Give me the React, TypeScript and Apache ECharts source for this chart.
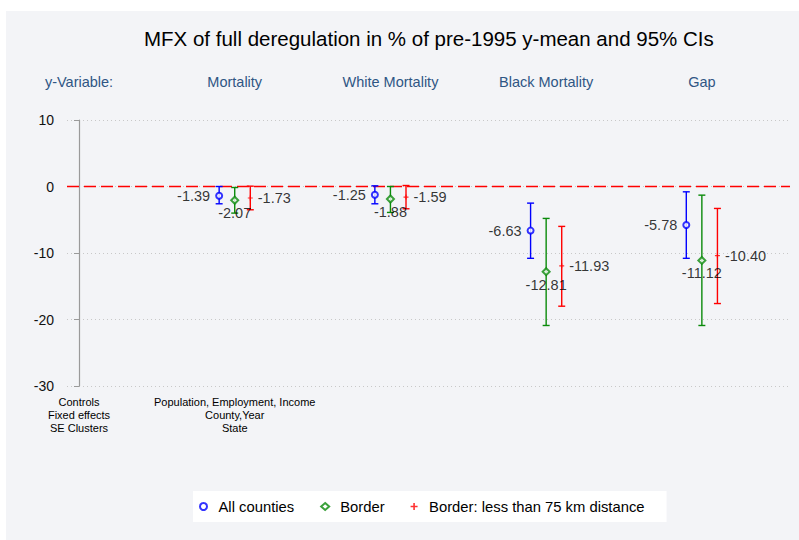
import React, { useEffect, useRef } from "react";
import * as echarts from "echarts";

const titleText = "MFX of full deregulation in % of pre-1995 y-mean and 95% CIs";
const rowHeader = "y-Variable:";
const categories = ["Mortality", "White Mortality", "Black Mortality", "Gap"];
const footerLeft = ["Controls", "Fixed effects", "SE Clusters"];
const footerSpec = ["Population, Employment, Income", "County,Year", "State"];
const seriesNames = ["All counties", "Border", "Border: less than 75 km distance"];

const allCounties = [-1.39, -1.25, -6.63, -5.78];
const allLo = [-2.6, -2.6, -10.8, -10.8];
const allHi = [0.0, 0.1, -2.5, -0.8];

const border = [-2.07, -1.88, -12.81, -11.12];
const borderLo = [-4.0, -3.9, -20.9, -20.9];
const borderHi = [-0.15, 0.0, -4.8, -1.3];

const near75 = [-1.73, -1.59, -11.93, -10.4];
const near75Lo = [-3.5, -3.35, -18.0, -17.6];
const near75Hi = [0.05, 0.15, -6.0, -3.3];

const yTicks = [-30, -20, -10, 0, 10];

const FONT = "'Liberation Sans', Arial, Helvetica, sans-serif";
const BLUE = "#0000ff";
const GREEN = "#0a8a0a";
const RED = "#ff0000";
const OFFSET = 0.1;

const PLUS = "path://M2,0 h1.2 v2 h2 v1.2 h-2 v2 h-1.2 v-2 h-2 v-1.2 h2 z";

function errorBarSeries(name: string, color: string, pts: number[][]) {
  return {
    type: "custom",
    name,
    silent: true,
    xAxisIndex: 0,
    yAxisIndex: 0,
    data: pts,
    z: 3,
    renderItem: (params: any, api: any) => {
      const x = api.value(0);
      const lo = api.value(1);
      const hi = api.value(2);
      const top = api.coord([x, hi]);
      const bot = api.coord([x, lo]);
      const cap = 3.5;
      const style = { stroke: color, lineWidth: 1.4 };
      return {
        type: "group",
        children: [
          { type: "line", shape: { x1: top[0], y1: top[1], x2: bot[0], y2: bot[1] }, style },
          { type: "line", shape: { x1: top[0] - cap, y1: top[1], x2: top[0] + cap, y2: top[1] }, style },
          { type: "line", shape: { x1: bot[0] - cap, y1: bot[1], x2: bot[0] + cap, y2: bot[1] }, style },
        ],
      };
    },
  };
}

export default function App() {
  const ref = useRef<HTMLDivElement>(null);
  useEffect(() => {
    if (!ref.current) return;
    const chart = echarts.init(ref.current, undefined, { renderer: "svg" });
    const xMin = -0.0771;
    const xMax = 4.566;
    const blueCI = allCounties.map((_, i) => [i + 1 - OFFSET, allLo[i], allHi[i]]);
    const greenCI = border.map((_, i) => [i + 1, borderLo[i], borderHi[i]]);
    const redCI = near75.map((_, i) => [i + 1 + OFFSET, near75Lo[i], near75Hi[i]]);
    const labelBase = {
      show: true,
      fontSize: 14.5,
      color: "#000",
      textBorderWidth: 0,
      fontFamily: FONT,
      formatter: (p: any) => p.value[1].toFixed(2),
    };

    chart.setOption({
      animation: false,
      backgroundColor: "#ffffff",
      textStyle: { fontFamily: FONT },
      graphic: [
        { type: "rect", z: -10, silent: true, shape: { x: 6, y: 11, width: 793, height: 529 }, style: { fill: "#f3f4f7" } },
      ],
      title: {
        text: titleText,
        left: 144,
        top: 28,
        padding: 0,
        textStyle: { fontSize: 20.5, fontWeight: "normal", color: "#000", fontFamily: FONT },
      },
      legend: {
        data: [
          { name: seriesNames[0], icon: "emptyCircle" },
          { name: seriesNames[1], icon: "emptyDiamond" },
          { name: seriesNames[2], icon: PLUS },
        ],
        left: 193,
        top: 491,
        orient: "horizontal",
        backgroundColor: "#ffffff",
        padding: [8, 22, 8, 6],
        itemWidth: 8,
        itemHeight: 7,
        itemGap: 26,
        selectedMode: false,
        textStyle: { fontSize: 14.8, color: "#000", fontFamily: FONT, padding: [0, 0, 0, 6] },
      },
      grid: { left: 67, right: 9, top: 120, bottom: 154, containLabel: false },
      xAxis: [
        {
          type: "value",
          position: "bottom",
          min: xMin,
          max: xMax,
          axisLine: { show: false },
          axisTick: { show: false },
          splitLine: { show: false },
          axisLabel: {
            customValues: [0, 1],
            margin: 9,
            fontSize: 11,
            lineHeight: 13,
            color: "#000",
            align: "center",
            fontFamily: FONT,
            formatter: (v: number) => (Math.round(v) === 0 ? footerLeft.join("\n") : footerSpec.join("\n")),
          },
        },
        {
          type: "value",
          position: "top",
          min: xMin,
          max: xMax,
          axisLine: { show: false },
          axisTick: { show: false },
          splitLine: { show: false },
          axisLabel: {
            customValues: [0, 1, 2, 3, 4],
            margin: 31,
            fontSize: 14.5,
            color: "#2f5684",
            fontFamily: FONT,
            formatter: (v: number) => {
              const i = Math.round(v);
              return i === 0 ? rowHeader : categories[i - 1];
            },
          },
        },
      ],
      yAxis: {
        type: "value",
        min: yTicks[0],
        max: yTicks[yTicks.length - 1],
        interval: 10,
        axisLine: { show: true, lineStyle: { color: "#9a9a9a", width: 1.2 } },
        axisTick: { show: true, length: 5, lineStyle: { color: "#9a9a9a" } },
        axisLabel: { fontSize: 14, color: "#111", margin: 13, fontFamily: FONT },
        splitLine: { show: true, lineStyle: { color: "#c8c8c8", type: [1, 3], width: 1 } },
      },
      series: [
        errorBarSeries("ci-all", BLUE, blueCI),
        errorBarSeries("ci-border", GREEN, greenCI),
        errorBarSeries("ci-near", RED, redCI),
        {
          type: "scatter",
          name: seriesNames[0],
          symbol: "emptyCircle",
          symbolSize: 6,
          z: 5,
          itemStyle: { color: BLUE, borderColor: BLUE, borderWidth: 1.5 },
          data: allCounties.map((v, i) => [i + 1 - OFFSET, v]),
          label: { ...labelBase, position: "left", distance: 5 },
          markLine: {
            silent: true,
            symbol: ["none", "none"],
            label: { show: false },
            lineStyle: { color: RED, type: [12, 5], width: 1.3 },
            data: [{ yAxis: 0 }],
            z: 2,
          },
        },
        {
          type: "scatter",
          name: seriesNames[1],
          symbol: "emptyDiamond",
          symbolSize: 7,
          z: 5,
          itemStyle: { color: GREEN, borderColor: GREEN, borderWidth: 1.5 },
          data: border.map((v, i) => [i + 1, v]),
          label: { ...labelBase, position: "bottom", distance: 1 },
        },
        {
          type: "scatter",
          name: seriesNames[2],
          symbol: PLUS,
          symbolSize: 5,
          z: 5,
          itemStyle: { color: RED },
          data: near75.map((v, i) => [i + 1 + OFFSET, v]),
          label: { ...labelBase, position: "right", distance: 5 },
        },
      ],
    });
    return () => chart.dispose();
  }, []);

  return (
    <div style={{ position: "fixed", left: 0, top: 0, width: 799, height: 540 }}>
      <div ref={ref} style={{ width: 799, height: 540 }} />
    </div>
  );
}
